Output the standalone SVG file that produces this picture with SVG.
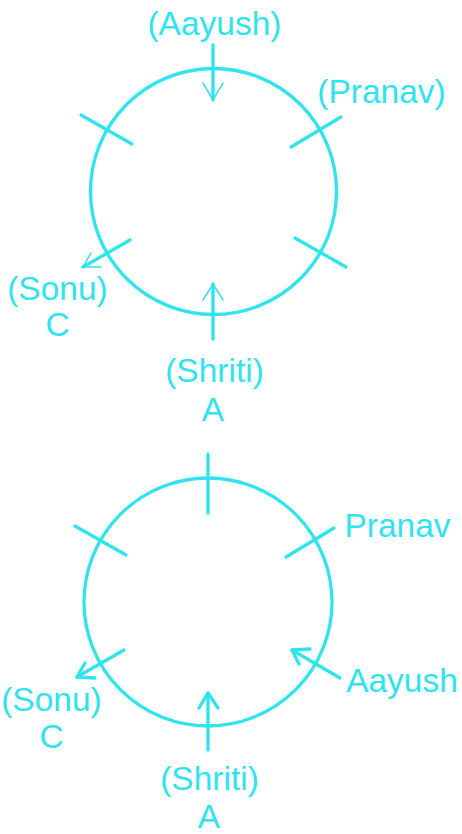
<svg xmlns="http://www.w3.org/2000/svg" width="462" height="834" viewBox="0 0 462 834">
<style>
.c{fill:none;stroke:#30E3EC;stroke-width:3.3}
.l{stroke:#30E3EC;stroke-width:3.3;fill:none;stroke-linecap:round}
.t{stroke:#30E3EC;stroke-width:1.5;fill:none;stroke-linecap:round}
.k{stroke:#30E3EC;stroke-width:3.3;fill:none;stroke-linecap:round;stroke-linejoin:round}
text{font-family:"Liberation Sans",Arial,sans-serif;font-size:33.5px;fill:#30E3EC;text-anchor:middle}
</style>
<rect width="462" height="834" fill="#ffffff"/>
<g id="top">
  <g id="top-circle"><circle class="c" cx="213.5" cy="191.5" r="123"/></g>
  <g id="top-connectors">
    <line class="l" x1="213" y1="45" x2="213" y2="100"/>
    <polyline class="t" points="203,83 213,100 223,83"/>
    <line class="l" x1="81" y1="115" x2="132" y2="144"/>
    <line class="l" x1="341" y1="117" x2="291" y2="147"/>
    <line class="l" x1="295" y1="238" x2="346" y2="267"/>
    <line class="l" x1="130" y1="240" x2="83" y2="267"/>
    <polyline class="t" points="91,253 83,267 101,267"/>
    <line class="l" x1="213" y1="339" x2="213" y2="284"/>
    <polyline class="t" points="203,300 213,284 223,300"/>
  </g>
  <g id="top-aayush"><text x="214.5" y="35">(Aayush)</text></g>
  <g id="top-pranav"><text x="381.5" y="103">(Pranav)</text></g>
  <g id="top-sonu"><text x="57.5" y="300">(Sonu)</text><text x="57.5" y="336">C</text></g>
  <g id="top-shriti"><text x="214.5" y="382">(Shriti)</text><text x="213" y="421">A</text></g>
</g>
<g id="bottom">
  <g id="bottom-circle"><circle class="c" cx="208" cy="602" r="124"/></g>
  <g id="bottom-connectors">
    <line class="l" x1="208" y1="454" x2="208" y2="513"/>
    <line class="l" x1="75" y1="526" x2="126" y2="555"/>
    <line class="l" x1="334" y1="528" x2="286" y2="557"/>
    <line class="l" x1="340" y1="678" x2="292" y2="650"/>
    <polyline class="k" points="310,649 292,650 299,664"/>
    <line class="l" x1="124" y1="650" x2="77" y2="677"/>
    <polyline class="k" points="85,663 77,677 95,678"/>
    <line class="l" x1="208" y1="750" x2="208" y2="693"/>
    <polyline class="k" points="199,708 208,693 218,708"/>
  </g>
  <g id="bottom-pranav"><text x="397.5" y="537">Pranav</text></g>
  <g id="bottom-aayush"><text x="402" y="692">Aayush</text></g>
  <g id="bottom-sonu"><text x="51.5" y="711">(Sonu)</text><text x="51.5" y="748">C</text></g>
  <g id="bottom-shriti"><text x="209.5" y="790">(Shriti)</text><text x="209" y="828">A</text></g>
</g>
</svg>
